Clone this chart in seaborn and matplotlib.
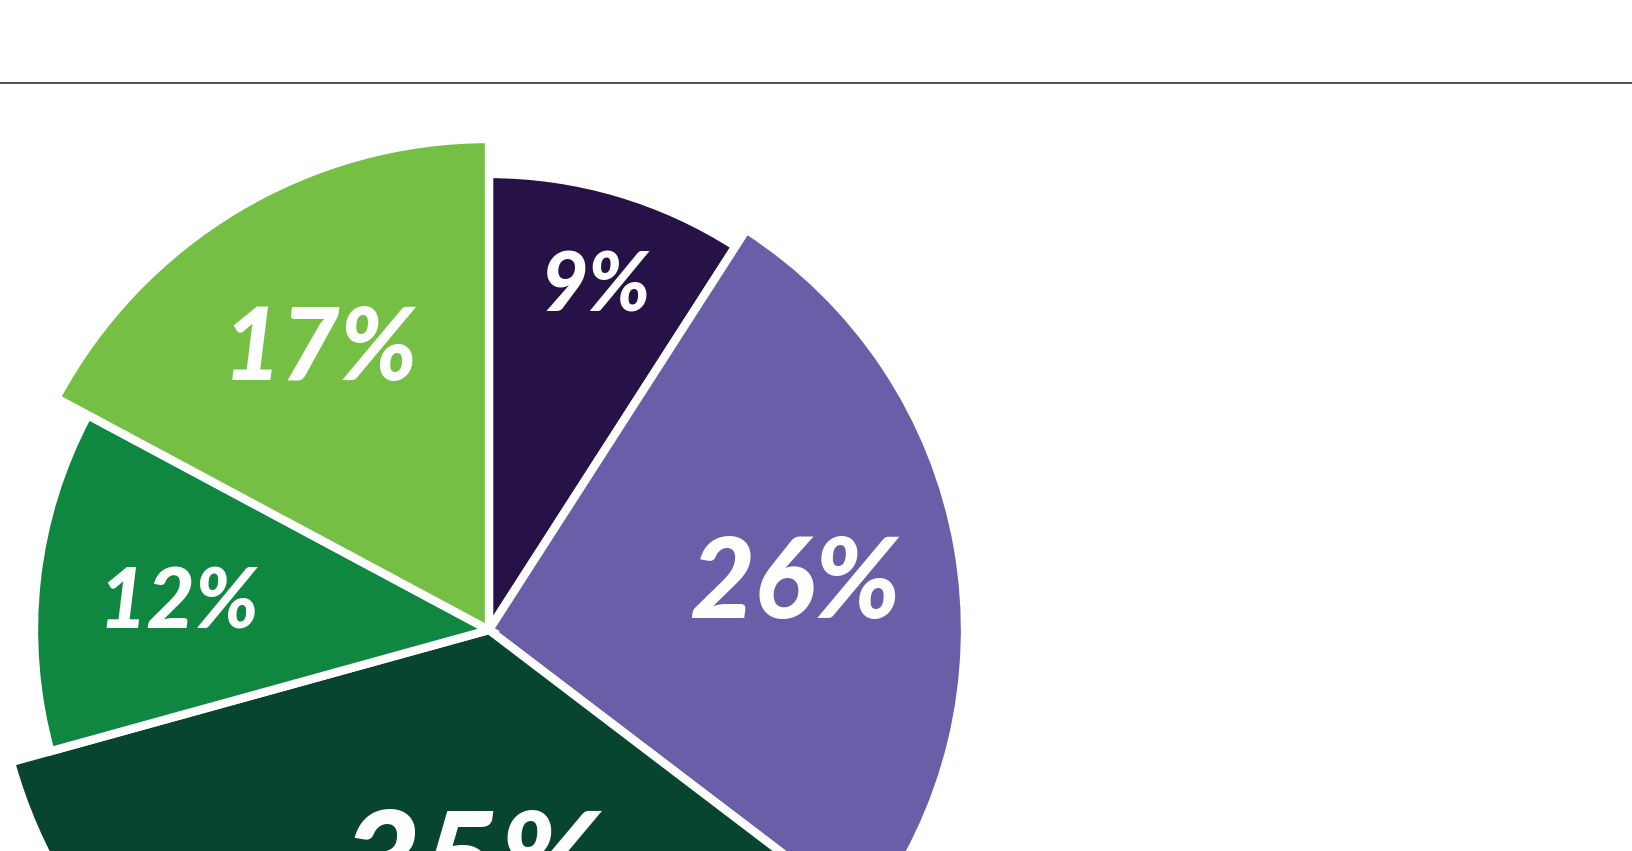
import matplotlib.pyplot as plt
import matplotlib.transforms as mtransforms
import numpy as np
import seaborn as sns
from matplotlib.lines import Line2D

# dữ liệu
labels = ["9%", "26%", "35%", "12%", "17%"]
values = [9, 26, 35, 12, 17]
radius = [456, 476, 496, 455, 491]
colors = ["#261246", "#6a5ea8", "#07452e", "#108741", "#74bf44"]
label_sizes = [59, 81, 98, 60, 73]

sns.set_theme(style="white")
plt.rcParams["font.family"] = ["Lato", "DejaVu Sans"]

W, H = 1632, 851
fig = plt.figure(figsize=(W / 100, H / 100), dpi=100)
fig.patch.set_facecolor("white")

# trục cực, tâm tại (489, 630) pixel
cx, cy, R = 489, 630, 520
ax = fig.add_axes([(cx - R) / W, (H - cy - R) / H, 2 * R / W, 2 * R / H],
                  projection="polar")
ax.set_theta_zero_location("N")
ax.set_theta_direction(-1)
ax.set_ylim(0, R)

vals = np.array(values, dtype=float)
widths = vals / vals.sum() * 2 * np.pi
starts = np.concatenate([[0], np.cumsum(widths)[:-1]])
ax.bar(starts, radius, width=widths, align="edge", color=colors,
       edgecolor="white", linewidth=6)

# nhãn (dịch xuống một chút vì va="center" tính cả phần dưới chữ)
trans = mtransforms.offset_copy(ax.transData, fig=fig, x=4, y=-9, units="dots")
label_r = [366, 307, 232, 316, 336]
label_shift = [0, 0, -6, 0, 0]  # độ
for s, w, lab, fs, lr, sh in zip(starts, widths, labels, label_sizes, label_r, label_shift):
    ax.text(s + w / 2 + np.deg2rad(sh), lr, lab, ha="center", va="center", color="white",
            fontsize=fs, fontweight="black", fontstyle="italic", transform=trans)

ax.grid(False)
ax.set_xticks([])
ax.set_yticks([])
ax.spines["polar"].set_visible(False)
ax.set_facecolor("none")

fig.add_artist(Line2D([0, 1], [1 - 83 / H, 1 - 83 / H], color="#333333", linewidth=1.2))

fig.savefig("out.png", dpi=100)
